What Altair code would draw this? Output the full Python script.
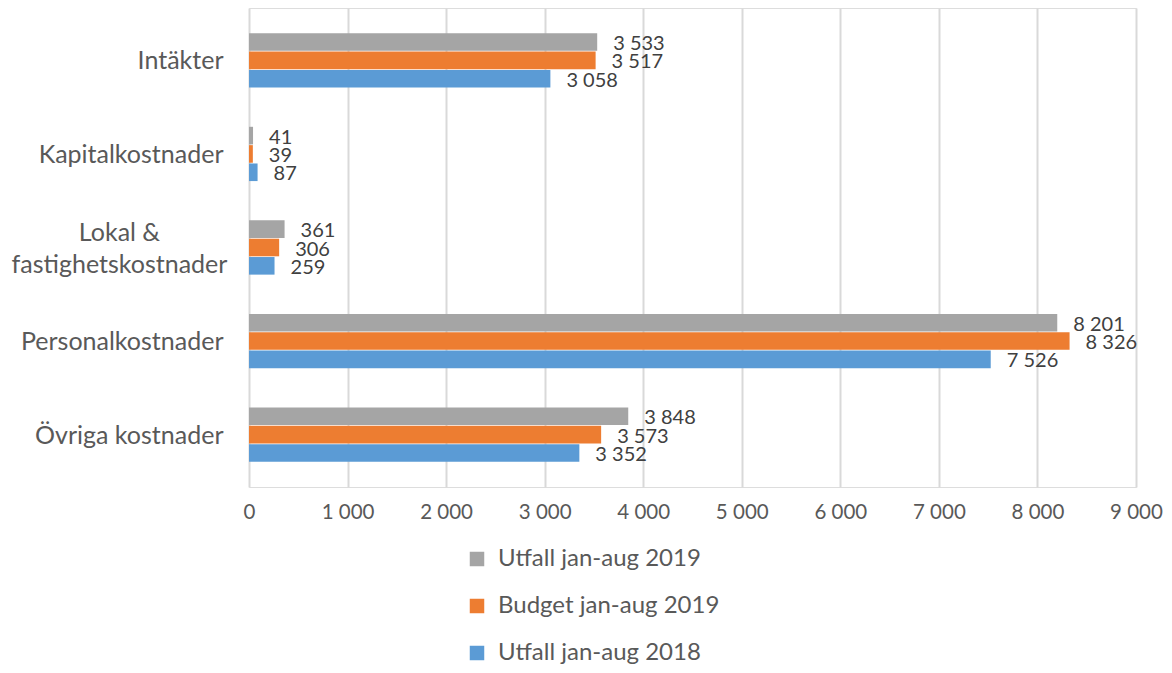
import altair as alt
import pandas as pd

categories = ["Intäkter", "Kapitalkostnader", "Lokal & fastighetskostnader", "Personalkostnader", "Övriga kostnader"]
series = ["Utfall jan-aug 2019", "Budget jan-aug 2019", "Utfall jan-aug 2018"]
utfall_2019 = [3533, 41, 361, 8201, 3848]
budget_2019 = [3517, 39, 306, 8326, 3573]
utfall_2018 = [3058, 87, 259, 7526, 3352]
colors = ["#A5A5A5", "#ED7D31", "#5B9BD5"]
x_ticks = [0, 1000, 2000, 3000, 4000, 5000, 6000, 7000, 8000, 9000]

rows = []
for s, vals in zip(series, [utfall_2019, budget_2019, utfall_2018]):
    for c, v in zip(categories, vals):
        rows.append({"Kategori": c, "Serie": s, "Värde": v})
df = pd.DataFrame(rows)

FONT = "Lato"
LOKAL = "datum.value == 'Lokal & fastighetskostnader'"

base = alt.Chart(df).encode(
    y=alt.Y("Kategori:N", sort=categories,
            scale=alt.Scale(paddingInner=0.42, paddingOuter=0.27),
            axis=alt.Axis(title=None, ticks=False, domain=False, labelFontSize=25,
                          labelColor="#595959", labelFont=FONT,
                          labelPadding={"condition": {"test": LOKAL, "value": 130}, "value": 26},
                          labelAlign={"condition": {"test": LOKAL, "value": "center"}, "value": "right"},
                          labelOffset={"condition": {"test": LOKAL, "value": -15}, "value": 1},
                          labelLimit=0, labelLineHeight=32,
                          labelExpr="datum.value == 'Lokal & fastighetskostnader' ? ['Lokal &', 'fastighetskostnader'] : (datum.value == 'Intäkter' ? 'Intäkter\u00a0' : datum.value)")),
    yOffset=alt.YOffset("Serie:N", sort=series, scale=alt.Scale(paddingInner=0.04)),
)

bars = base.mark_bar().encode(
    x=alt.X("Värde:Q", scale=alt.Scale(domain=[0, 9000], nice=False),
            axis=alt.Axis(title=None, values=x_ticks, ticks=False, domain=False,
                          grid=True, gridColor="#D9D9D9", gridWidth=2,
                          labelFontSize=20.5, labelColor="#595959", labelFont=FONT,
                          labelPadding=15, labelFlush=False, labelOverlap=False,
                          labelExpr="replace(format(datum.value, ','), ',', ' ')")),
    color=alt.Color("Serie:N", sort=series,
                    scale=alt.Scale(domain=series, range=colors),
                    legend=alt.Legend(title=None, orient="none", legendX=216, legendY=539,
                                      direction="vertical", symbolType="square",
                                      symbolSize=210, symbolStrokeWidth=0,
                                      labelFontSize=24, labelFont=FONT, labelColor="#595959",
                                      labelOffset=9, rowPadding=23, labelLimit=0)),
)

labels = base.mark_text(align="left", baseline="middle", dx=16, dy=2,
                        fontSize=20, font=FONT, color="#404040").encode(
    x=alt.X("Värde:Q"),
    text=alt.Text("label:N"),
).transform_calculate(label="replace(format(datum['Värde'], ','), ',', ' ')")

chart = (bars + labels).properties(
    width=887, height=479,
    autosize=alt.AutoSizeParams(type="none"),
    padding={"left": 241, "top": 0, "right": 28, "bottom": 178},
).configure_view(stroke=None).configure(background="white")

chart.save("out.html", embed_options={"renderer": "svg", "actions": False})
